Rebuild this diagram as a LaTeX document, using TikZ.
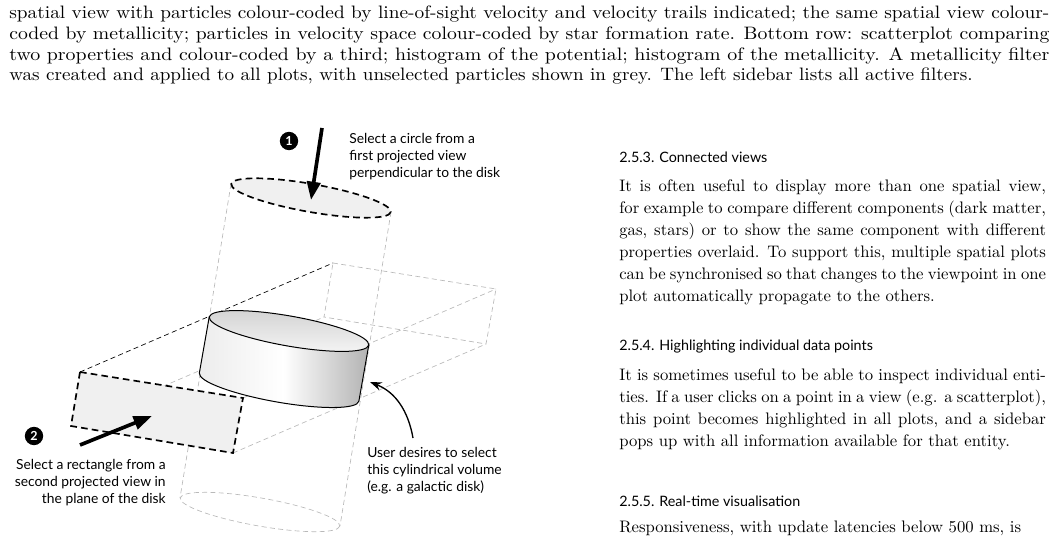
\documentclass[tikz,border=0pt]{standalone}
\usepackage{fontspec}
\usepackage{graphicx}
\newfontfamily\lato{Lato}
\usetikzlibrary{arrows.meta}
\begin{document}
\begin{tikzpicture}[x=0.6pt,y=-0.6pt,
  body/.style={anchor=north west,inner sep=0,align=justify,font=\fontsize{10}{12}\selectfont},
  capl/.style={anchor=base west,inner sep=0,font=\fontsize{10.8}{12}\selectfont},
  head/.style={anchor=west,inner sep=0,font=\lato\fontsize{8.6}{10}\selectfont},
  lab/.style={inner sep=0,font=\lato\fontsize{8.3}{10.2}\selectfont},
  ghost/.style={gray!55,densely dashed,line width=0.4pt},
  sel/.style={black,dashed,line width=1pt,dash pattern=on 4pt off 2.5pt},
  big/.style={-{Triangle[length=11pt,width=8pt]},line width=2.2pt},
  num/.style={circle,fill=black,text=white,inner sep=0,minimum size=11pt,font=\lato\bfseries\fontsize{7.5}{8}\selectfont}]
\useasboundingbox (0,0) rectangle (1055,554);
% top caption
\node[capl] (c1) at (9,19) {\resizebox{624pt}{\height}{spatial view with particles colour-coded by line-of-sight velocity and velocity trails indicated; the same spatial view colour-}};
\node[capl] (c2) at (9,40) {\resizebox{624pt}{\height}{coded by metallicity; particles in velocity space colour-coded by star formation rate. Bottom row: scatterplot comparing}};
\node[capl] (c3) at (9,61) {\resizebox{624pt}{\height}{two properties and colour-coded by a third; histogram of the potential; histogram of the metallicity. A metallicity filter}};
\node[capl] (c4) at (9,81) {\resizebox{578pt}{\height}{was created and applied to all plots, with unselected particles shown in grey. The left sidebar lists all active filters.}};
% right column
\node[head] (h1) at (619,157) {2.5.3. Connected views};
\node[body,text width=256pt,font=\fontsize{10}{13.2}\selectfont] (p1) at (619,179) {It is often useful to display more than one spatial view,\linebreak for example to compare different components (dark matter,\linebreak gas, stars) or to show the same component with different\linebreak properties overlaid. To support this, multiple spatial plots\linebreak can be synchronised so that changes to the viewpoint in one\linebreak plot automatically propagate to the others.};
\node[head] (h2) at (619,347) {2.5.4. Highlighting individual data points};
\node[body,text width=256pt,font=\fontsize{10}{13.2}\selectfont] (p2) at (619,368) {It is sometimes useful to be able to inspect individual enti-\linebreak ties. If a user clicks on a point in a view (e.g. a scatterplot),\linebreak this point becomes highlighted in all plots, and a sidebar\linebreak pops up with all information available for that entity.};
\node[head] (h3) at (619,501) {2.5.5. Real-time visualisation};
\node[body,text width=256pt,font=\fontsize{10}{13.2}\selectfont] (p3) at (619,521) {Responsiveness, with update latencies below 500 ms, is\hfill\null};
% slab back edges
\coordinate (A) at (80,372); \coordinate (B) at (243,398);
\coordinate (C) at (233,453); \coordinate (D) at (71,426);
\coordinate (A2) at (333,263); \coordinate (B2) at (496,289);
\coordinate (C2) at (486,344); \coordinate (D2) at (324,317);
\draw[ghost] (A2) -- (B2) -- (C2) -- (D2) -- cycle;
\draw[ghost] (B) -- (B2) (C) -- (C2) (D) -- (D2);
\draw[black,densely dashed,line width=0.4pt] (A) -- (A2);
% ghost cylinder
\draw[ghost] (260,512) ellipse[x radius=81,y radius=14,rotate=-10];
\draw[ghost] (231,184) -- (180,498) (391,212) -- (340,526);
% selected rectangle
\fill[gray!12] (A) -- (B) -- (C) -- (D) -- cycle;
\draw[sel] (A) -- (B) -- (C) -- (D) -- cycle;
% disk
\begin{scope}[shift={(289,331)},rotate=-10]
\shade[left color=gray!15,right color=gray!60,middle color=white]
 (-81,0) -- (-81,57) arc[start angle=180,end angle=0,x radius=81,y radius=15]
 -- (81,0) arc[start angle=0,end angle=180,x radius=81,y radius=15] -- cycle;
\draw[line width=0.6pt] (-81,0) -- (-81,57) arc[start angle=180,end angle=0,x radius=81,y radius=15] -- (81,0);
\draw[line width=0.6pt,top color=gray!35,bottom color=gray!8] (0,0) ellipse[x radius=81,y radius=15];
\end{scope}
% selected circle
\fill[gray!12] (311,198) ellipse[x radius=81,y radius=14,rotate=-10];
\draw[sel] (311,198) ellipse[x radius=81,y radius=14,rotate=-10];
% arrows and labels
\coordinate (t1) at (322,128); \coordinate (e1) at (311,200);
\draw[big] (t1) -- (e1);
\node[num] (n1) at (289,141) {1};
\node[lab,anchor=north west,align=left] (l1) at (349,133) {Select a circle from a\\first projected view\\perpendicular to the disk};
\coordinate (t2) at (80,445); \coordinate (e2) at (152,416);
\draw[big] (t2) -- (e2);
\node[num] (n2) at (34,436) {2};
\node[lab,anchor=north east,align=right] (l2) at (166,459) {Select a rectangle from a\\second projected view in\\the plane of the disk};
\node[lab,anchor=north west,align=left] (l3) at (367,447) {User desires to select\\this cylindrical volume\\(e.g. a galactic disk)};
\coordinate (t3) at (413,438); \coordinate (e3) at (370,382);
\draw[-{Stealth[length=7pt,width=5pt]},line width=0.8pt] (t3) .. controls (408,410) and (395,392) .. (e3);
\end{tikzpicture}
\end{document}
